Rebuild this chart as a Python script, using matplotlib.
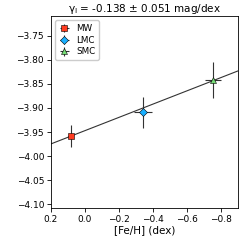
import numpy as np
import matplotlib
matplotlib.use("Agg")
import matplotlib.pyplot as plt

galaxies = ["MW", "LMC", "SMC"]
feh = [0.085, -0.34, -0.75]
feh_err = [0.014, 0.054, 0.047]
gamma = [-3.958, -3.909, -3.842]
gamma_err = [0.023, 0.032, 0.038]
colors = ["#ff3b1f", "#1ab0ff", "#77dd77"]
markers = ["s", "D", "^"]
slope = -0.138
intercept = -3.947
xlim = (0.2, -0.9)
ylim = (-4.108, -3.709)

fig = plt.figure(figsize=(2.4, 2.4), dpi=100)
ax = fig.add_axes([0.2125, 0.133, 0.78, 0.8])

xs = np.array(xlim)
ax.plot(xs, intercept + slope * xs, color="#333333", lw=0.8, zorder=1)

for g, x, xe, y, ye, c, m in zip(galaxies, feh, feh_err, gamma, gamma_err, colors, markers):
    ax.errorbar(x, y, xerr=xe, yerr=ye, fmt=m, color=c, mec="black", mew=0.4,
                ms=4, ecolor="#333333", elinewidth=0.8, label=g, zorder=3)

ax.set_xlim(*xlim)
ax.set_ylim(*ylim)
ax.set_xticks([0.2, 0.0, -0.2, -0.4, -0.6, -0.8])
ax.set_yticks([-3.75, -3.80, -3.85, -3.90, -3.95, -4.00, -4.05, -4.10])
ax.tick_params(labelsize=6.5, length=3, width=0.6, pad=2)
for s in ax.spines.values():
    s.set_linewidth(0.6)
ax.set_xlabel("[Fe/H] (dex)", fontsize=7.5, labelpad=1)
ax.set_title(r"$\mathregular{\gamma_{I}}$ = -0.138 ± 0.051 mag/dex", fontsize=7.5, pad=3)
ax.legend(loc="upper left", fontsize=6.3, handlelength=1.2, borderpad=0.4,
          labelspacing=0.3, handletextpad=0.8, framealpha=1, edgecolor="#cccccc")

fig.savefig("out.png", dpi=100)
